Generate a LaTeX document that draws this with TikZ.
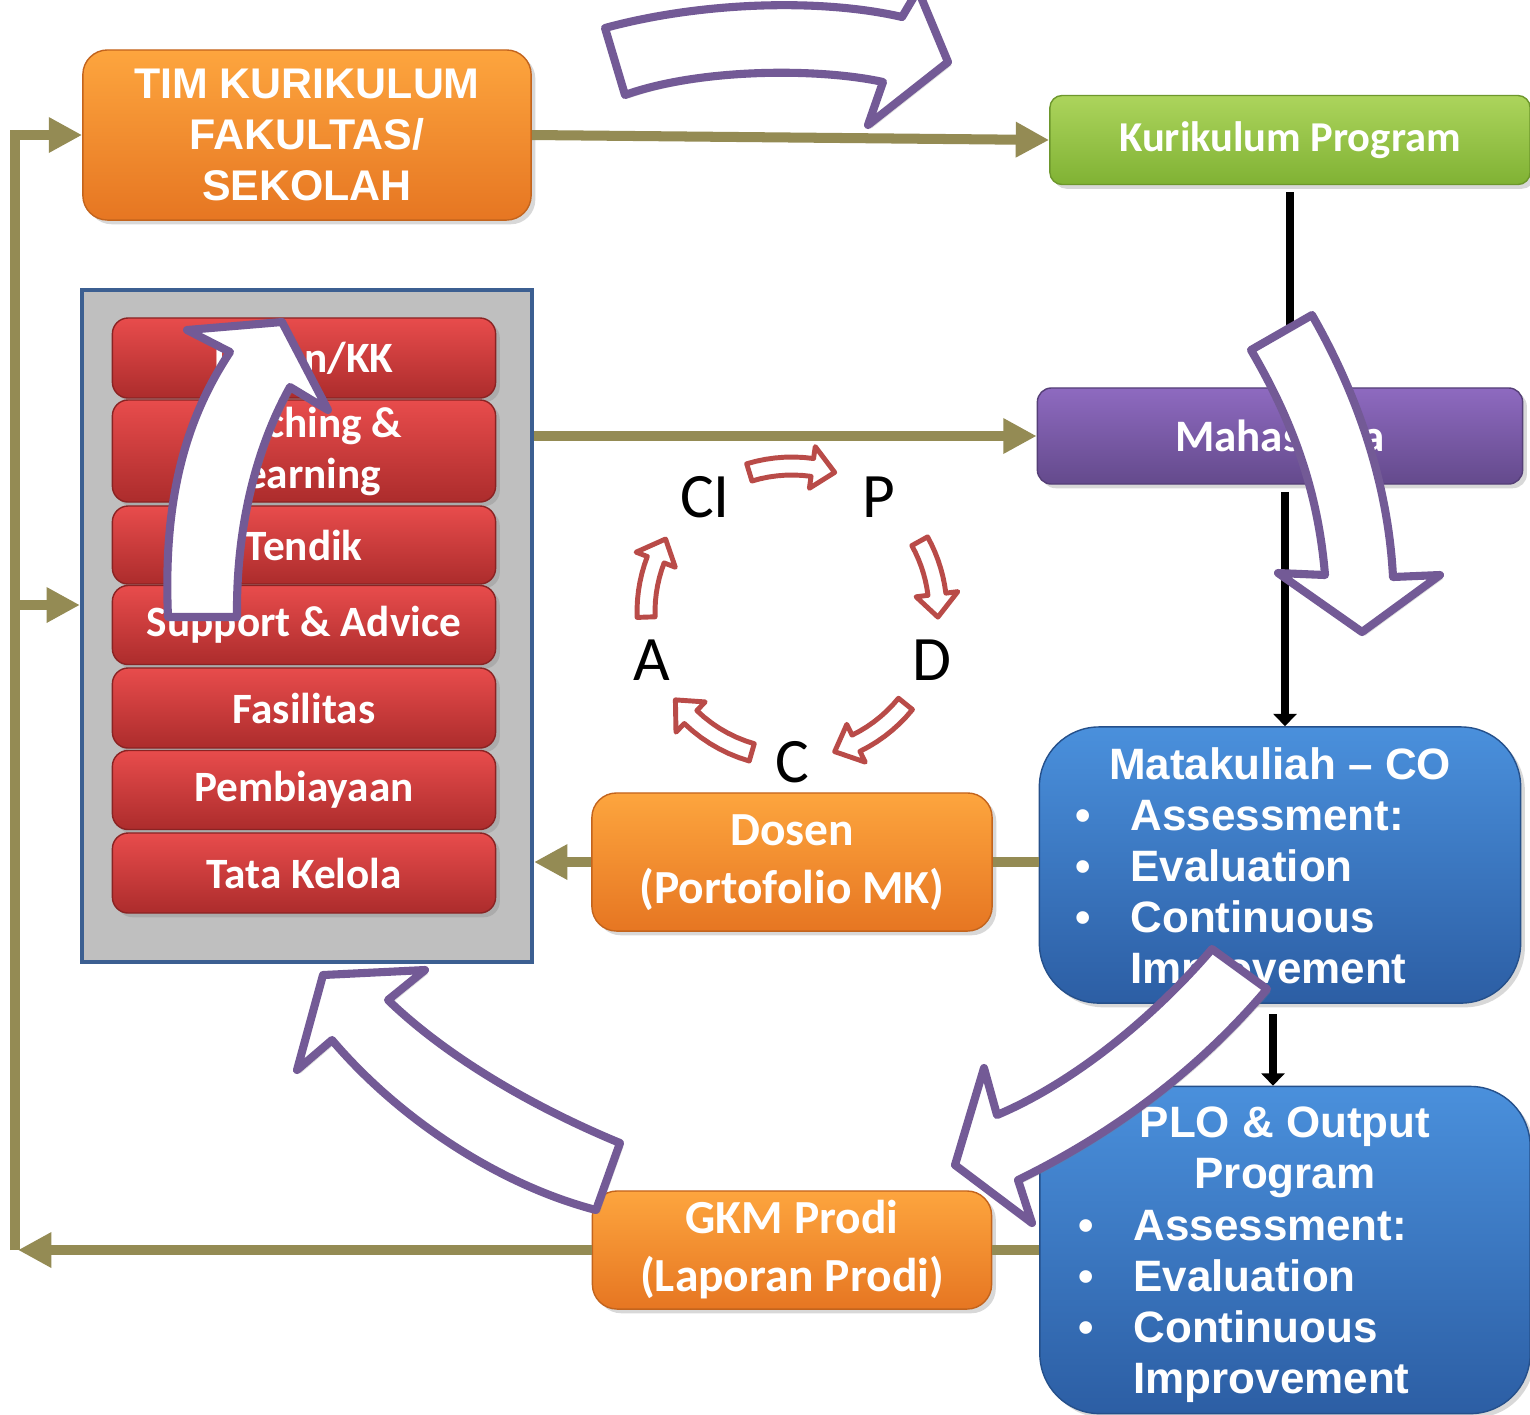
\documentclass[tikz,border=0pt]{standalone}
\usepackage{fontspec}
\setmainfont{Carlito}
\newfontfamily\arialfont{Liberation Sans}
\usepackage{tikz}
\usetikzlibrary{arrows.meta,shadows}

\definecolor{orangetop}{RGB}{253,165,62}
\definecolor{orangebot}{RGB}{230,118,34}
\definecolor{greentop}{RGB}{172,212,92}
\definecolor{greenbot}{RGB}{128,178,52}
\definecolor{purptop}{RGB}{142,106,192}
\definecolor{purpbot}{RGB}{100,74,140}
\definecolor{bluetop}{RGB}{74,144,220}
\definecolor{bluebot}{RGB}{44,94,164}
\definecolor{redtop}{RGB}{232,76,76}
\definecolor{redbot}{RGB}{172,44,44}
\definecolor{linkolive}{RGB}{148,139,84}
\definecolor{arrowpurple}{RGB}{115,90,150}
\definecolor{pdcared}{RGB}{185,75,72}
\definecolor{panelgray}{RGB}{191,191,191}
\definecolor{panelblue}{RGB}{60,95,145}

\newcommand{\bul}{\makebox[15.6pt][l]{\textbullet}}
\newcommand{\pdcaarrow}[2]{%
  \draw[pdca] plot[domain=#1:#2-9, samples=8, variable=\t] (\t:155)
    -- (#2-9:167) -- (#2:146) -- (#2-9:125) -- (#2-9:137)
    -- plot[domain=#2-9:#1, samples=8, variable=\t] (\t:137) -- cycle;}

\begin{document}
\begin{tikzpicture}[x=0.01cm, y=-0.01cm,
    box/.style={rounded corners=#1, inner sep=0pt, align=center, text=white,
      drop shadow={opacity=0.3, shadow xshift=1.2pt, shadow yshift=-1.2pt}},
    box/.default=6pt,
    calib/.style={font=\bfseries\fontsize{12.3}{14.5}\selectfont},
    arial/.style={font=\arialfont\bfseries\fontsize{12.5}{14.5}\selectfont},
    orangebox/.style={box=7pt, top color=orangetop, bottom color=orangebot, draw=orangebot!85!black, line width=0.4pt},
    greenbox/.style={box=3.5pt, top color=greentop, bottom color=greenbot, draw=greenbot!85!black, line width=0.4pt},
    purplebox/.style={box=4pt, top color=purptop, bottom color=purpbot, draw=purpbot!85!black, line width=0.4pt},
    bluebox/.style={box=17pt, top color=bluetop, bottom color=bluebot, draw=bluebot!85!black, line width=0.4pt},
    redbar/.style={box=4.5pt, calib, top color=redtop, bottom color=redbot, draw=redbot!80!black, line width=0.4pt,
      minimum width=3.83cm},
    listtext/.style={arial, text=white, inner sep=0pt, align=left},
    link/.style={draw=linkolive, line width=2.85pt, -{Triangle[length=9.5pt,width=9.5pt]}},
    plain/.style={draw=linkolive, line width=2.85pt},
    flow/.style={draw=black, line width=2.3pt, -{Triangle[length=3.5pt,width=6.5pt]}},
    bigarrow/.style={draw=arrowpurple, fill=white, line width=2.3pt, line join=round,
      drop shadow={opacity=0.25, shadow xshift=1pt, shadow yshift=-1pt}},
    pdca/.style={draw=pdcared, fill=white, line width=1.4pt, line join=round},
    letter/.style={font=\fontsize{18}{20}\selectfont, inner sep=0pt}]
  \fill[white] (0,0) rectangle (1530,1414);
  \useasboundingbox (0,0) rectangle (1530,1414);

  % boxes
  \node[orangebox, font=\arialfont\bfseries\fontsize{12.2}{14.5}\selectfont,
    minimum width=4.48cm, minimum height=1.70cm] (tim) at (307,135) {TIM KURIKULUM\\FAKULTAS/\\SEKOLAH};
  \node[greenbox, calib, font=\bfseries\fontsize{12.1}{14.5}\selectfont,
    minimum width=4.80cm, minimum height=0.89cm] (kurprog) at (1290,140) {Kurikulum Program};
  \node[purplebox, calib, font=\bfseries\fontsize{12.8}{15}\selectfont,
    minimum width=4.85cm, minimum height=0.96cm] (mhs) at (1280,436) {Mahasiswa};

  \node[draw=panelblue, fill=panelgray, line width=1.1pt, minimum width=4.50cm, minimum height=6.71cm] (panel) at (307,626) {};
  \node[redbar, minimum height=0.80cm] (bar1) at (304,358) {Dosen/KK};
  \node[redbar, minimum height=1.02cm] (bar2) at (304,451) {Teaching \&\\Learning};
  \node[redbar, minimum height=0.78cm] (bar3) at (304,545) {Tendik};
  \node[redbar, minimum height=0.79cm] (bar4) at (304,625) {Support \& Advice};
  \node[redbar, minimum height=0.80cm] (bar5) at (304,708) {Fasilitas};
  \node[redbar, minimum height=0.79cm] (bar6) at (304,790) {Pembiayaan};
  \node[redbar, minimum height=0.80cm] (bar7) at (304,873) {Tata Kelola};

  \node[orangebox, font=\bfseries\fontsize{13.5}{16.5}\selectfont,
    minimum width=4.00cm, minimum height=1.38cm] (dosen) at (792,862) {\rule{0pt}{9pt}Dosen\\(Portofolio MK)};
  \node[orangebox, font=\bfseries\fontsize{13.5}{16.5}\selectfont,
    minimum width=3.99cm, minimum height=1.18cm] (gkm) at (792,1250) {\rule{0pt}{9pt}GKM Prodi\\(Laporan Prodi)};

  \node[bluebox, minimum width=4.81cm, minimum height=2.76cm] (mk) at (1280,865) {};
  \node[listtext] (mktitle) at (1280,764) {Matakuliah – CO};
  \node[listtext, anchor=north west] (mklist) at (1075,800)
    {\bul Assessment:\\\bul Evaluation\\\bul Continuous\\\hspace*{15.6pt}Improvement};
  \node[bluebox, minimum width=4.90cm, minimum height=3.27cm] (plo) at (1285,1250) {};
  \node[listtext, align=center] (plotitle) at (1285,1152) {PLO \& Output\\Program};
  \node[listtext, anchor=north west] (plolist) at (1078,1210)
    {\bul Assessment:\\\bul Evaluation\\\bul Continuous\\\hspace*{15.6pt}Improvement};

  % connectors
  \draw[link] (tim.east) -- (kurprog.west);
  \draw[link] (panel.east |- mhs.west) -- (mhs.west);
  \draw[plain] (mk.west |- dosen.east) -- (dosen.east);
  \draw[link] (dosen.west) -- (panel.east |- dosen.west);
  \draw[plain] (plo.west |- gkm.east) -- (gkm.east);
  \coordinate (lend) at (18,1250);
  \coordinate (lcorner) at (15,1250);
  \coordinate (lmid) at (15,605);
  \draw[link] (gkm.west) -- (lend);
  \draw[link] (lcorner) |- (tim.west);
  \draw[link] (lmid) -- (panel.west |- lmid);

  \coordinate (mhsx) at (1285,0);
  \coordinate (mkx) at (1273,0);
  \draw[draw=black, line width=2.3pt, shorten <=2pt] (kurprog.south) -- (kurprog.south |- mhs.north);
  \draw[flow, shorten <=2pt] (mhs.south -| mhsx) -- (mk.north -| mhsx);
  \draw[flow, shorten <=3pt] (mk.south -| mkx) -- (plo.north -| mkx);

  % PDCA cycle
  \node[letter] (lci) at (705,497) {CI};
  \node[letter] (lp) at (879,497) {P};
  \node[letter] (ld) at (932,660) {D};
  \node[letter] (lc) at (792,762) {C};
  \node[letter] (la) at (652,660) {A};
  \begin{scope}[shift={(792,612)}]
    \pdcaarrow{-107}{-73}
    \pdcaarrow{-29}{2}
    \pdcaarrow{39}{73}
    \pdcaarrow{106}{143}
    \pdcaarrow{178}{210}
  \end{scope}

  % big arrows
  \draw[bigarrow] (605,28) .. controls (700,2) and (820,-2) .. (902,17) -- (918,-10) -- (948,62)
    -- (868,125) -- (883,82) .. controls (820,68) and (700,68) .. (625,95) -- cycle;
  \draw[bigarrow] (168,617) .. controls (163,500) and (185,420) .. (230,352) -- (187,330) -- (282,322)
    -- (328,410) -- (290,387) .. controls (255,450) and (236,530) .. (237,617) -- cycle;
  \draw[bigarrow] (1251,350) -- (1312,315) .. controls (1355,390) and (1388,480) .. (1393,577) -- (1440,575)
    -- (1362,632) -- (1278,573) -- (1325,575) .. controls (1318,490) and (1292,420) .. cycle;
  \draw[bigarrow] (1212,949) -- (1267,989) .. controls (1190,1080) and (1100,1140) .. (1018,1180) -- (1032,1223)
    -- (955,1165) -- (984,1068) -- (997,1115) .. controls (1080,1080) and (1160,1010) .. cycle;
  \draw[bigarrow] (596,1210) -- (620,1143) .. controls (540,1110) and (450,1060) .. (388,1000) -- (425,970)
    -- (323,975) -- (297,1070) -- (332,1040) .. controls (400,1120) and (500,1185) .. cycle;
\end{tikzpicture}
\end{document}
